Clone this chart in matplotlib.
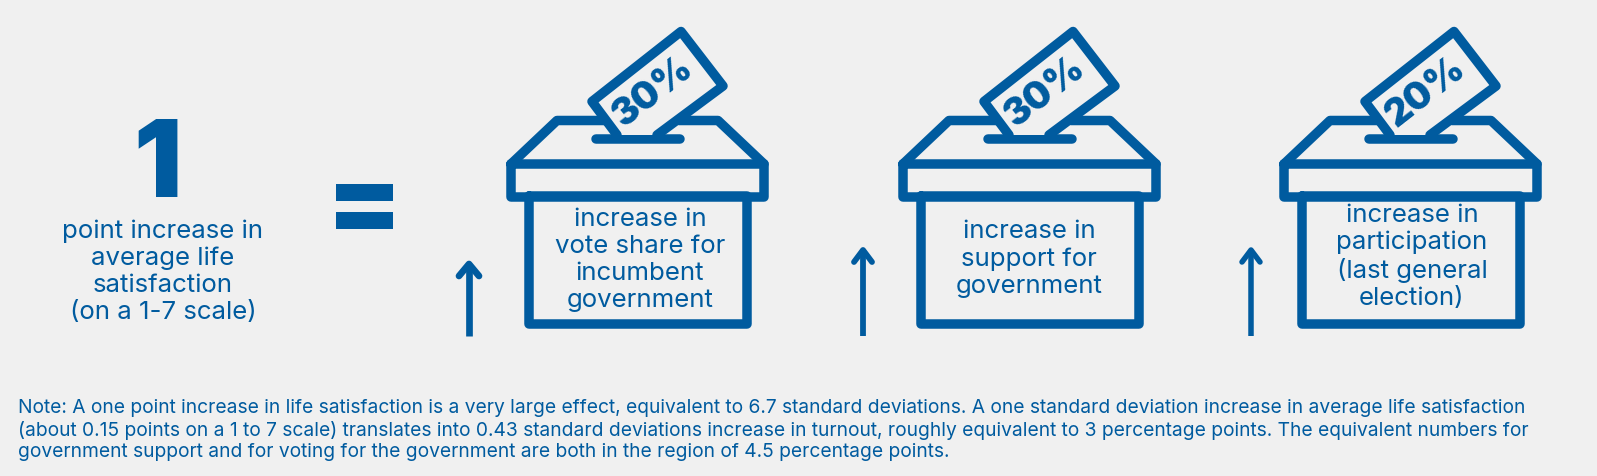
import matplotlib
matplotlib.use("Agg")
import matplotlib.pyplot as plt
from matplotlib.patches import Polygon, Rectangle

W, H = 1597, 476
BG = "#f0f0f0"
BLUE = "#005b9f"
FONT = "Inter"

percent_labels = ["30%", "30%", "20%"]
box_captions = [
    "increase in\nvote share for\nincumbent\ngovernment",
    "increase in\nsupport for\ngovernment",
    "increase in\nparticipation\n(last general\nelection)",
]
headline_value = "1"
headline_caption = "point increase in\naverage life\nsatisfaction\n(on a 1-7 scale)"
note_lines = [
    "Note: A one point increase in life satisfaction is a very large effect, equivalent to 6.7 standard deviations. A one standard deviation increase in average life satisfaction",
    "(about 0.15 points on a 1 to 7 scale) translates into 0.43 standard deviations increase in turnout, roughly equivalent to 3 percentage points. The equivalent numbers for",
    "government support and for voting for the government are both in the region of 4.5 percentage points.",
]
box_left = [506, 898, 1279]
arrow_x = [469, 863, 1251]
arrow_top = [261, 247, 247]
arrow_lw = [6.7, 5.8, 5.5]
arrow_half = [10, 9, 9]
caption_cx = [134, 131, 133]
caption_cy = [260, 259, 257]

fig = plt.figure(figsize=(W / 100, H / 100), dpi=100, facecolor=BG)
ax = fig.add_axes([0, 0, 1, 1])
ax.set_xlim(0, W)
ax.set_ylim(H, 0)
ax.axis("off")

PX = 72 / 100
def line(xs, ys, lw=9.5, cap="round"):
    ax.plot(xs, ys, color=BLUE, lw=lw * PX, solid_capstyle=cap, solid_joinstyle="round")

def box(x0, pct, caption, cx, cy):
    line([x0 + 5, x0 + 258, x0 + 258, x0 + 5, x0 + 5], [164, 164, 196.5, 196.5, 164])
    line([x0 + 22.7, x0 + 22.7, x0 + 240.5, x0 + 240.5, x0 + 22.7], [196, 324, 324, 196, 196])
    line([x0 + 5, x0 + 51, x0 + 100], [164, 120.5, 120.5])
    line([x0 + 173, x0 + 212, x0 + 258], [120.5, 120.5, 164])
    line([x0 + 90, x0 + 174], [139, 139])
    # ballot paper, open at the slot
    pts = [(x0 + 111, 135), (x0 + 86, 101.5), (x0 + 175, 31.5), (x0 + 217, 86), (x0 + 151, 135)]
    ax.add_patch(Polygon(pts, closed=False, fill=True, fc=BG, ec="none", zorder=2))
    xs, ys = zip(*pts)
    ax.plot(xs, ys, color=BLUE, lw=9.5 * PX, solid_capstyle="round", solid_joinstyle="round", zorder=3)
    ax.text(x0 + 147, 92, pct, rotation=38, rotation_mode="anchor", ha="center", va="center",
            color=BLUE, fontsize=27, fontweight="black", family=FONT, zorder=4)
    ax.text(x0 + cx, cy, caption, ha="center", va="center", color=BLUE, fontsize=18.6,
            linespacing=1.21, family=FONT, zorder=4)

def arrow(x, top, lw, half):
    line([x, x], [336, top + 3], lw=lw, cap="butt")
    line([x - half, x, x + half], [top + 15, top + 3, top + 15], lw=lw)

for i in range(3):
    box(box_left[i], percent_labels[i], box_captions[i], caption_cx[i], caption_cy[i])
    arrow(arrow_x[i], arrow_top[i], arrow_lw[i], arrow_half[i])

ax.text(158, 169, headline_value, ha="center", va="center", color=BLUE, fontsize=77,
        fontweight="black", family=FONT)
ax.text(163, 271.5, headline_caption, ha="center", va="center", color=BLUE, fontsize=18.6,
        linespacing=1.21, family=FONT)
ax.add_patch(Rectangle((336, 184), 57, 16.5, fc=BLUE, ec="none"))
ax.add_patch(Rectangle((336, 212), 57, 17, fc=BLUE, ec="none"))

for y, t in zip([408, 430, 452], note_lines):
    ax.text(18, y, t, ha="left", va="center", color=BLUE, fontsize=13.85, family=FONT)

fig.savefig("out.png", dpi=100, facecolor=BG)
